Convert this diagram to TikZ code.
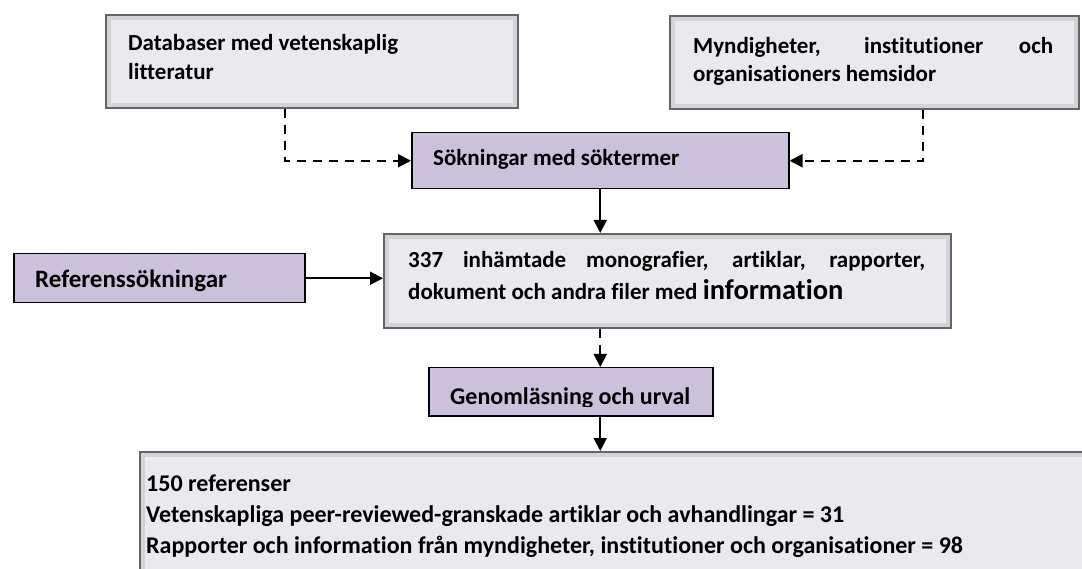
\documentclass[tikz,border=0pt]{standalone}
\usepackage{fontspec}
\setmainfont{Carlito}[Ligatures=NoCommon]
\usetikzlibrary{arrows.meta}
\definecolor{lav}{RGB}{204,193,218}
\definecolor{boxfill}{RGB}{234,233,238}
\definecolor{boxedge}{RGB}{100,100,100}
\definecolor{bevel}{RGB}{212,211,217}
\tikzset{
  graybox/.style={draw=boxedge, line width=1.6pt, fill=boxfill, inner sep=0pt, anchor=north west,
    path picture={\draw[bevel, line width=4pt]
      ([shift={(3pt,-3pt)}]path picture bounding box.north west) rectangle
      ([shift={(-3pt,3pt)}]path picture bounding box.south east);}},
  lavbox/.style={draw=black, line width=1.5pt, fill=lav, anchor=north west, inner sep=0pt},
  tl/.style={font=\bfseries\fontsize{23}{29}\selectfont, anchor=base west, inner sep=0pt},
  arr/.style={line width=2pt, -{Triangle[length=13pt,width=13pt]}},
  darr/.style={arr, dash pattern=on 9pt off 7pt},
}
\begin{document}
\begin{tikzpicture}[x=1pt,y=-1pt]
\useasboundingbox (0,0) rectangle (1082,569);
\clip (0,0) rectangle (1082,569);

% top sources
\node[graybox, minimum width=412pt, minimum height=93pt] (db) at (105,14) {};
\node[tl] (dbt1) at (128,51) {Databaser med vetenskaplig};
\node[tl] (dbt2) at (128,80) {litteratur};

\node[graybox, minimum width=409pt, minimum height=93pt] (my) at (669,15) {};
\node[tl] (myt1) at (693,54) {\makebox[360pt][s]{Myndigheter, institutioner och}};
\node[tl] (myt2) at (693,82) {organisationers hemsidor};

% searches
\node[lavbox, minimum width=377pt, minimum height=56pt] (sok) at (411,132) {};
\node[tl] (sokt) at (433,166) {Sökningar med söktermer};

\node[lavbox, minimum width=291pt, minimum height=49pt] (ref) at (13,253) {};
\node[tl, font=\bfseries\fontsize{25}{30}\selectfont] (reft) at (35,288) {Referenssökningar};

% collected material
\node[graybox, minimum width=567pt, minimum height=94pt] (main) at (383,233) {};
\node[tl] (maint1) at (408,268) {\makebox[517pt][s]{337 inhämtade monografier, artiklar, rapporter,}};
\node[tl] (maint2) at (408,300) {dokument och andra filer med {\fontsize{28.5}{32}\selectfont information}};

% reading and selection
\node[lavbox, minimum width=284pt, minimum height=48pt] (gen) at (428,367) {};
\begin{scope}
  \clip (gen.north west) rectangle ([yshift=10pt]gen.south east);
  \node[tl, font=\bfseries\fontsize{24}{29}\selectfont] (gent) at (450,404) {Genomläsning och urval};
\end{scope}

% result
\node[graybox, minimum width=960pt, minimum height=130pt] (res) at (139,451) {};
\begin{scope}[every node/.style={tl, font=\bfseries\fontsize{24}{30}\selectfont}]
  \node (rest1) at (146,491) {150 referenser};
  \node (rest2) at (146,522) {Vetenskapliga peer-reviewed-granskade artiklar och avhandlingar = 31};
  \node (rest3) at (146,553) {Rapporter och information från myndigheter, institutioner och organisationer = 98};
\end{scope}

% connectors
\coordinate (lx) at (285,0);
\coordinate (rx) at (923,0);
\draw[darr] (db.south -| lx) |- (sok.west);
\draw[darr] (my.south -| rx) |- (sok.east);
\draw[arr] (sok.south) -- (sok.south |- main.north);
\draw[arr] (ref.east) -- (ref.east -| main.west);
\draw[darr] (main.south -| sok.south) -- (gen.north -| sok.south);
\draw[arr] (gen.south -| sok.south) -- (res.north -| sok.south);
\end{tikzpicture}
\end{document}
